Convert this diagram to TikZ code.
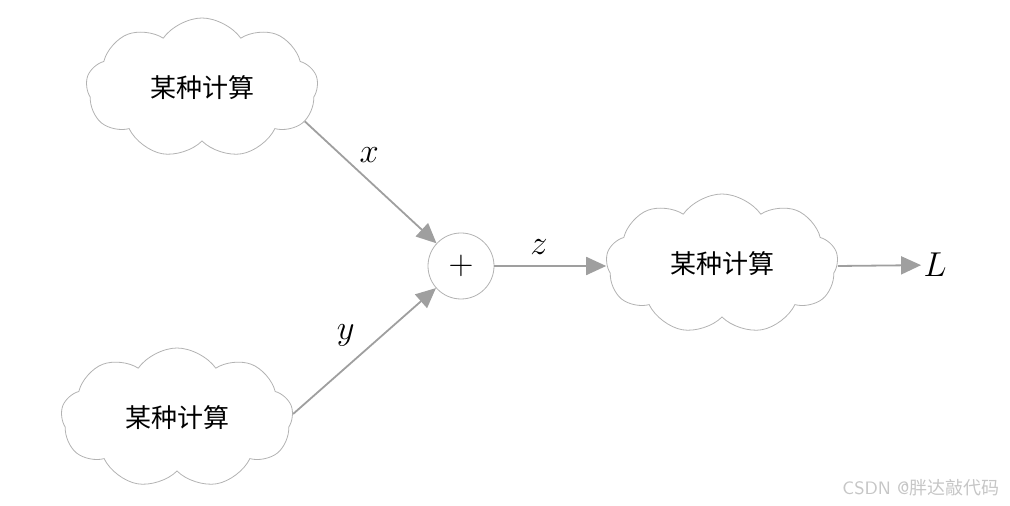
\documentclass[tikz,border=0pt]{standalone}
\usepackage{fontspec}
\newfontfamily\cjk{Noto Sans CJK SC}
\usetikzlibrary{shapes.symbols,arrows.meta}

\begin{document}
\begin{tikzpicture}
  [x=0.5pt,y=-0.5pt,
   calc/.style={cloud,cloud puffs=9,cloud puff arc=110,cloud ignores aspect,
     draw=gray!60,thin,minimum width=116pt,minimum height=70pt,
     font=\cjk\fontsize{13}{15}\selectfont},
   op/.style={circle,draw=gray!60,thin,minimum size=33pt,inner sep=0pt,
     font=\fontsize{16}{18}\selectfont},
   flow/.style={draw=gray!75,line width=0.9pt,-{Triangle[length=10pt,width=9pt]}},
   lbl/.style={font=\fontsize{17}{20}\selectfont}]

  \useasboundingbox (0,0) rectangle (1010,506);

  \node[calc] (ca) at (202,88)  {某种计算};
  \node[calc] (cb) at (177,418) {某种计算};
  \node[op]   (plus) at (461,266) {$+$};
  \node[calc] (cc) at (722,264) {某种计算};
  \node[lbl,inner sep=1pt] (out) at (935,265) {$L$};

  \draw[flow] (ca.-18) -- node[lbl,pos=0.45,above right,xshift=-6pt,yshift=3pt] {$x$} (plus);
  \draw[flow] (cb.2) -- node[lbl,pos=0.4,above left,xshift=6pt,yshift=5pt] {$y$} (plus);
  \draw[flow] (plus) -- node[lbl,pos=0.4,above,yshift=2pt] {$z$} (plus -| cc.west);
  \draw[flow] (cc.east |- plus) -- (out);

  \node[font=\sffamily\fontsize{9}{11}\selectfont,text=gray!45] (mark) at (921,488)
    {CSDN @{\cjk 胖达敲代码}};
\end{tikzpicture}
\end{document}
